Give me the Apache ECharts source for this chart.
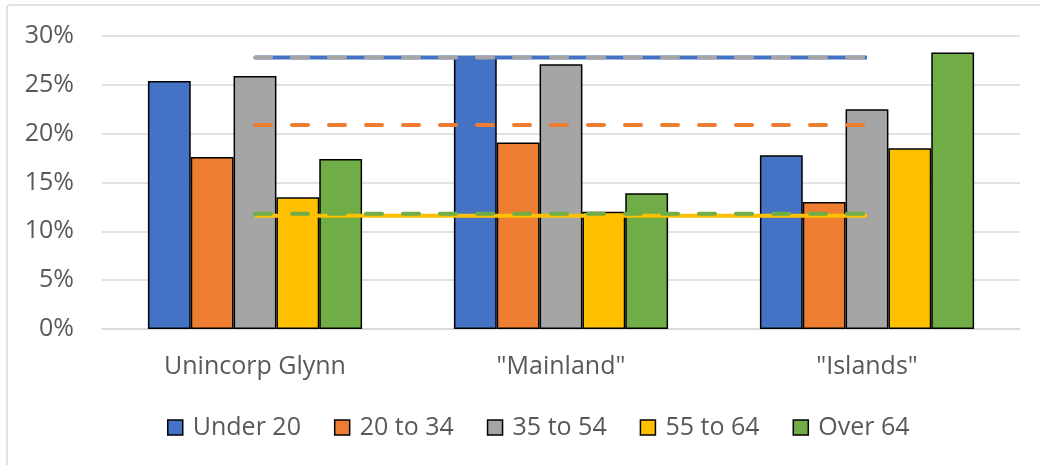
<!DOCTYPE html>
<html>
<head>
<meta charset="utf-8">
<script src="https://cdn.jsdelivr.net/npm/echarts@6/dist/echarts.min.js"></script>
<style>
  html, body { margin: 0; padding: 0; background: #fff; }
  #chart { width: 1040px; height: 465px; }
</style>
</head>
<body>
<div id="chart"></div>
<script>
// ---- data ----
const categories = ['Unincorp Glynn', '"Mainland"', '"Islands"'];
const seriesNames = ['Under 20', '20 to 34', '35 to 54', '55 to 64', 'Over 64'];
const under20 = [25.4, 27.9, 17.8];
const age20to34 = [17.6, 19.1, 13.0];
const age35to54 = [25.9, 27.1, 22.5];
const age55to64 = [13.5, 12.0, 18.5];
const over64 = [17.4, 13.9, 28.3];
// reference (overall) levels drawn as horizontal lines
const refUnder20 = 27.8;
const ref20to34 = 20.9;
const ref35to54 = 27.8;
const ref55to64 = 11.6;
const refOver64 = 11.8;
const yTicks = [0, 5, 10, 15, 20, 25, 30];

const colors = ['#4472C4', '#ED7D31', '#A5A5A5', '#FFC000', '#70AD47'];
const barData = [under20, age20to34, age35to54, age55to64, over64];
const refData = [refUnder20, ref20to34, ref35to54, ref55to64, refOver64];

const font = '"Open Sans", "Noto Sans", sans-serif';

const barSeries = seriesNames.map((name, i) => ({
  name: name,
  type: 'bar',
  data: barData[i],
  barGap: '0%',
  barCategoryGap: '30%',
  itemStyle: { color: colors[i], borderColor: '#000', borderWidth: 1.5 },
  z: 2
}));

// line draw order: solid first, dashed on top
const lineOrder = [0, 1, 3, 2, 4];
const lineTypes = ['solid', [16, 21], [16, 21], 'solid', [16, 21]];
const lineSeries = lineOrder.map(i => ({
  name: 'ref ' + seriesNames[i],
  type: 'line',
  data: categories.map(() => refData[i]),
  symbol: 'none',
  silent: true,
  lineStyle: {
    color: colors[i],
    width: 4,
    type: lineTypes[i],
    cap: lineTypes[i] === 'solid' ? 'butt' : 'round'
  },
  z: 3
}));

const chart = echarts.init(document.getElementById('chart'), null, { renderer: 'canvas' });
chart.setOption({
  animation: false,
  backgroundColor: '#fff',
  textStyle: { fontFamily: font },
  graphic: [{
    type: 'rect',
    shape: { x: 7, y: 5, width: 1200, height: 700, r: 3 },
    style: { fill: 'none', stroke: '#d9d9d9', lineWidth: 1.5 },
    silent: true, z: -10
  }],
  grid: { left: 102, right: 20, top: 36, bottom: 136 },
  legend: {
    data: seriesNames,
    bottom: 20,
    left: 162,
    itemWidth: 15,
    itemHeight: 15,
    itemGap: 33,
    icon: 'rect',
    itemStyle: { borderColor: '#000', borderWidth: 1.5 },
    textStyle: { fontFamily: font, fontSize: 25, color: '#595959', padding: [0, 0, 0, 5] }
  },
  xAxis: {
    type: 'category',
    data: categories,
    axisLine: { lineStyle: { color: '#d9d9d9', width: 1.5 } },
    axisTick: { show: false },
    axisLabel: { fontFamily: font, fontSize: 25, color: '#595959', margin: 25 }
  },
  yAxis: {
    type: 'value',
    min: yTicks[0],
    max: yTicks[yTicks.length - 1],
    interval: 5,
    axisLine: { show: false },
    axisTick: { show: false },
    splitLine: { lineStyle: { color: '#d9d9d9', width: 1.5 } },
    axisLabel: { fontFamily: font, fontSize: 25, color: '#595959', margin: 28, formatter: '{value}%' }
  },
  series: barSeries.concat(lineSeries)
});
</script>
</body>
</html>
